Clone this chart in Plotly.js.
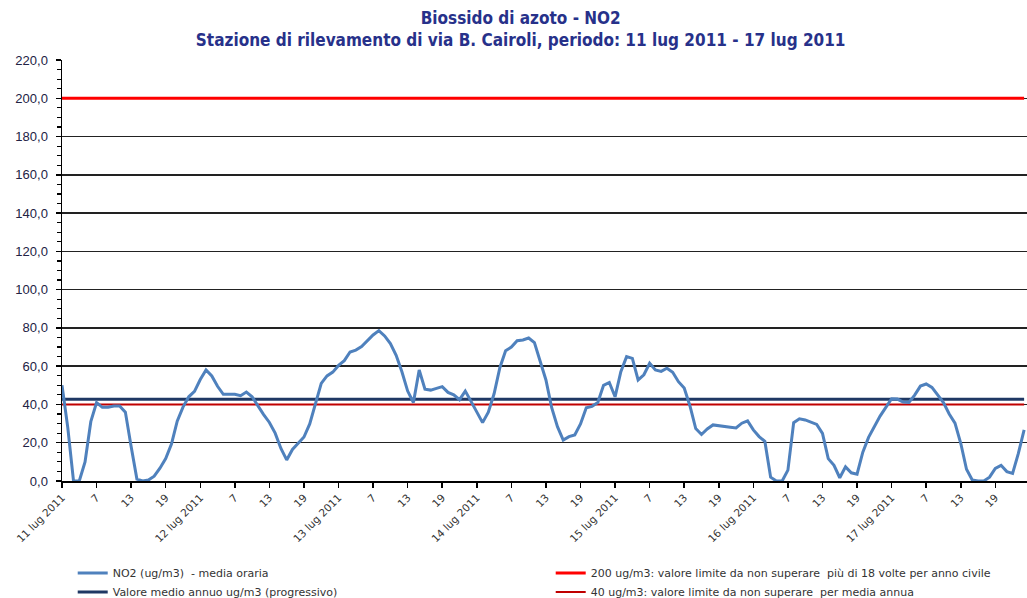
<!DOCTYPE html>
<html>
<head>
<meta charset="utf-8">
<script src="https://cdn.plot.ly/plotly-3.0.1.min.js"></script>
<style>html,body{margin:0;padding:0;background:#fff;}#chart{width:1027px;height:598px;}</style>
</head>
<body>
<div id="chart"></div>
<script>
// Day labels (shown at hour 1 of each day) and hour tick labels
const dayLabels = ['11 lug 2011','12 lug 2011','13 lug 2011','14 lug 2011','15 lug 2011','16 lug 2011','17 lug 2011'];
const hourLabels = ['7','13','19'];

// NO2 hourly mean values (ug/m3), 7 days x 24 hours
const no2 = [
50, 28, 0, 0, 10, 31, 41, 38.5, 38.5, 39.2, 39.2, 36, 18, 1, 0, 0.5, 2.5, 6.7, 11.7, 19.3,
31.3, 38.6, 44, 46.8, 53, 58, 54.9, 49.5, 45.3, 45.3, 45.3, 44.6, 46.5, 44, 39.2, 34.7, 30.6, 25, 17, 11,
16.5, 20, 23, 29.8, 40.2, 51, 54.9, 56.9, 60.4, 62.9, 67.4, 68.4, 70.2, 73.2, 76.3, 78.6, 75.8, 71.8, 65.7, 57.1,
47, 41, 58, 48, 47.5, 48.4, 49.3, 46.3, 45, 42.5, 47, 41.6, 36, 30.5, 36, 45.6, 59.2, 68.1, 70, 73.3,
73.7, 74.7, 72.3, 63, 52.8, 38.3, 28.4, 21.4, 23.2, 24.1, 29.8, 38.3, 39, 41, 50, 51.5, 44, 57.1, 65, 64.1,
52.8, 55.5, 61.5, 58, 57.3, 58.9, 56.8, 51.9, 48.6, 39.2, 27.4, 24.3, 27.2, 29.3, 28.8, 28.4, 28.1, 27.7, 30.2, 31.4,
26.7, 23.2, 20.7, 2, 0, 0, 5.7, 30.5, 32.5, 31.9, 30.8, 29.6, 24.9, 11.7, 8.2, 1.7, 7.4, 4.3, 3.6, 15.1,
22.8, 28.7, 33.9, 38.5, 43, 42.8, 41.3, 41.1, 44.9, 49.6, 50.7, 48.9, 45, 41, 35, 30.2, 19.7, 6.1, 0.5, 0,
0, 2, 6.6, 8.2, 4.9, 4, 14.4, 26.7
];

// Reference levels
const annualMean = 42.7;   // valore medio annuo (progressivo)
const limitHourly = 200;   // limite orario
const limitAnnual = 40;    // limite media annua

const yTickVals = [0,20,40,60,80,100,120,140,160,180,200,220];
const yTickText = yTickVals.map(v => v.toFixed(1).replace('.', ','));

const names = {
  no2: 'NO2 (ug/m3)  - media oraria',
  lim200: '200 ug/m3: valore limite da non superare  più di 18 volte per anno civile',
  mean: 'Valore medio annuo ug/m3 (progressivo)',
  lim40: '40 ug/m3: valore limite da non superare  per media annua'
};

const x = no2.map((_, i) => i);
const tickVals = [], tickText = [];
for (let d = 0; d < dayLabels.length; d++) {
  tickVals.push(d * 24); tickText.push(dayLabels[d]);
  for (let h = 0; h < hourLabels.length; h++) {
    tickVals.push(d * 24 + 6 * (h + 1)); tickText.push(hourLabels[h]);
  }
}
const constLine = v => x.map(() => v);

const tNo2 = {x: x, y: no2, type: 'scatter', mode: 'lines', name: names.no2,
   line: {color: '#4F81BD', width: 3}, legendrank: 1};
const t200 = {x: x, y: constLine(limitHourly), type: 'scatter', mode: 'lines', name: names.lim200,
   line: {color: '#FF0000', width: 3}, legendrank: 2};
const tMean = {x: x, y: constLine(annualMean), type: 'scatter', mode: 'lines', name: names.mean,
   line: {color: '#1F3864', width: 3}, legendrank: 3};
const t40 = {x: x, y: constLine(limitAnnual), type: 'scatter', mode: 'lines', name: names.lim40,
   line: {color: '#C00000', width: 2}, legendrank: 4};

const titleFont = {family: 'DejaVu Sans Condensed, Liberation Sans Narrow, sans-serif', size: 17, color: '#27318A', weight: 'bold'};

const layout = {
  width: 1027, height: 598,
  margin: {l: 62, r: 0, t: 60, b: 117, autoexpand: false},
  paper_bgcolor: '#fff', plot_bgcolor: '#fff',
  showlegend: true,
  title: {
    text: 'Biossido di azoto - NO2<br>Stazione di rilevamento di via B. Cairoli, periodo: 11 lug 2011 - 17 lug 2011',
    font: titleFont,
    x: 0.507, xanchor: 'center', yref: 'container', y: 0.96, yanchor: 'top'
  },
  xaxis: {
    range: [0, 167.5], showgrid: false, zeroline: false, automargin: false,
    tickmode: 'array', tickvals: tickVals, ticktext: tickText, tickangle: -45,
    ticks: 'outside', ticklen: 5, tickwidth: 1.5, tickcolor: '#000',
    showline: true, linecolor: '#000', linewidth: 1.5,
    tickfont: {family: 'DejaVu Sans, sans-serif', size: 10.5, color: '#333'}
  },
  yaxis: {
    range: [0, 220], zeroline: false, automargin: false,
    tickmode: 'array', tickvals: yTickVals, ticktext: yTickText,
    showgrid: true, gridcolor: '#222', gridwidth: 1.5,
    ticks: 'outside', ticklen: 5, tickwidth: 1.5, tickcolor: '#000',
    ticklabelstandoff: 5,
    showline: true, linecolor: '#000', linewidth: 1.5,
    minor: {dtick: 5, tick0: 0, ticks: 'outside', ticklen: 4, tickwidth: 1.2, tickcolor: '#000', showgrid: false},
    tickfont: {family: 'Liberation Sans, Arial, sans-serif', size: 13, color: '#222244'}
  },
  legend: {
    orientation: 'h', xref: 'container', yref: 'container',
    x: 0.0708, xanchor: 'left', y: 0.0659, yanchor: 'top',
    entrywidth: 433, entrywidthmode: 'pixels', traceorder: 'normal',
    font: {family: 'DejaVu Sans, sans-serif', size: 11, color: '#333'},
    bgcolor: 'rgba(0,0,0,0)', itemwidth: 30
  }
};

Plotly.newPlot('chart', [t200, t40, tMean, tNo2], layout, {displayModeBar: false, staticPlot: true});
</script>
</body>
</html>
